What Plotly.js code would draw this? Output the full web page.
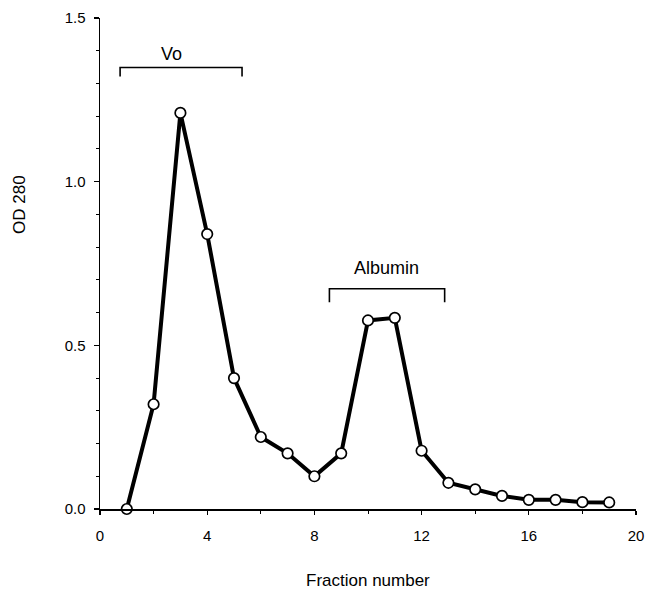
<!DOCTYPE html>
<html>
<head>
<meta charset="utf-8">
<script src="https://cdn.plot.ly/plotly-3.0.1.min.js"></script>
<style>html,body{margin:0;padding:0;background:#fff;}#chart{width:645px;height:589px;}</style>
</head>
<body>
<div id="chart"></div>
<script>
const fraction = [1, 2, 3, 4, 5, 6, 7, 8, 9, 10, 11, 12, 13, 14, 15, 16, 17, 18, 19];
const od280 = [0.0, 0.32, 1.21, 0.84, 0.40, 0.22, 0.17, 0.10, 0.17, 0.576, 0.584, 0.178, 0.08, 0.06, 0.04, 0.028, 0.028, 0.021, 0.02];
const xTicks = [0, 4, 8, 12, 16, 20];
const yTicks = [0, 0.5, 1.0, 1.5];
const yTickText = ["0.0", "0.5", "1.0", "1.5"];
const voRange = [0.75, 5.3];
const albuminRange = [8.56, 12.86];

const font = "Liberation Sans, Arial, Helvetica, sans-serif";

function bracket(x0, x1, yTop, yEnd) {
  return {
    type: "path", xref: "x", yref: "y",
    path: `M ${x0} ${yEnd} L ${x0} ${yTop} L ${x1} ${yTop} L ${x1} ${yEnd}`,
    line: {color: "#000", width: 1.6}
  };
}

const trace = {
  x: fraction, y: od280, type: "scatter", mode: "lines+markers",
  line: {color: "#000", width: 4},
  marker: {symbol: "circle", size: 10.5, color: "#fff", line: {color: "#000", width: 1.7}},
  cliponaxis: false, hoverinfo: "skip"
};

const plotW = 645 - 100 - 9, plotH = 589 - 18 - 80;

const layout = {
  width: 645, height: 589,
  margin: {l: 100, r: 9, t: 18, b: 80},
  paper_bgcolor: "#fff", plot_bgcolor: "#fff",
  showlegend: false,
  font: {family: font, size: 15, color: "#000"},
  xaxis: {
    range: [0, 20], tickvals: xTicks, ticktext: xTicks.map(String),
    showgrid: false, zeroline: false, showline: true, linecolor: "#000", linewidth: 1.5,
    ticks: "outside", ticklen: 4, tickwidth: 1.2, tickcolor: "#000",
    ticklabelstandoff: 8,
    minor: {dtick: 2, tick0: 0, ticks: "outside", ticklen: 3, tickwidth: 1, tickcolor: "#000", showgrid: false},
    tickfont: {family: font, size: 15, color: "#000"}
  },
  yaxis: {
    range: [0, 1.5], tickvals: yTicks, ticktext: yTickText,
    showgrid: false, zeroline: false, showline: true, linecolor: "#000", linewidth: 1.5,
    ticks: "outside", ticklen: 5, tickwidth: 1.2, tickcolor: "#000",
    ticklabelstandoff: 5,
    minor: {dtick: 0.1, tick0: 0, ticks: "outside", ticklen: 3, tickwidth: 1, tickcolor: "#000", showgrid: false},
    tickfont: {family: font, size: 15, color: "#000"}
  },
  shapes: [
    bracket(voRange[0], voRange[1], 1.349, 1.321),
    bracket(albuminRange[0], albuminRange[1], 0.673, 0.632)
  ],
  annotations: [
    {text: "Vo", x: 2.65, y: 1.39, xref: "x", yref: "y", showarrow: false, xanchor: "center", yanchor: "middle", font: {family: font, size: 18, color: "#000"}},
    {text: "Albumin", x: 10.7, y: 0.737, xref: "x", yref: "y", showarrow: false, xanchor: "center", yanchor: "middle", font: {family: font, size: 18, color: "#000"}},
    {text: "Fraction number", x: (368 - 100) / plotW, y: (509 - 580) / plotH, xref: "paper", yref: "paper", showarrow: false, xanchor: "center", yanchor: "middle", font: {family: font, size: 17, color: "#000"}},
    {text: "OD 280", textangle: -90, x: (19 - 100) / plotW, y: (509 - 205) / plotH, xref: "paper", yref: "paper", showarrow: false, xanchor: "center", yanchor: "middle", font: {family: font, size: 17, color: "#000"}}
  ]
};

Plotly.newPlot("chart", [trace], layout, {staticPlot: true, displayModeBar: false});
</script>
</body>
</html>
